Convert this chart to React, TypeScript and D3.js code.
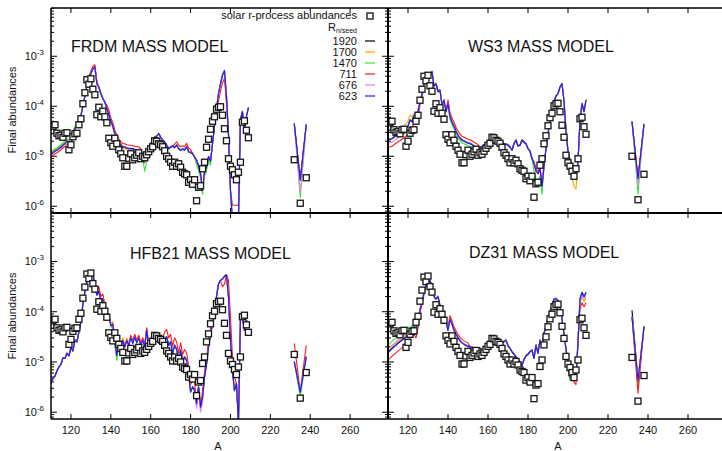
import React from "react";
import * as d3 from "d3";

const W = 722;
const H = 451;
const FONT = "'Liberation Sans', Arial, Helvetica, sans-serif";

// legend / series
const rnSeed = ["1920", "1700", "1470", "711", "676", "623"];
const seriesColors = ["#000000", "#ffa500", "#2ee62e", "#ff1a1a", "#ee82ee", "#1a1aff"];
const panelTitles = ["FRDM MASS MODEL", "WS3 MASS MODEL", "HFB21 MASS MODEL", "DZ31 MASS MODEL"];

// mass numbers
const massA = d3.range(110, 210);
const actinideA = [232, 235, 238];
const xTickValues = [120, 140, 160, 180, 200, 220, 240, 260];
const yTickPowers = [-3, -4, -5, -6];

// solar r-process abundances (log10), A = 110..209 then 232, 235, 238
const solarA = [...massA, ...actinideA];
const solarLog = [
  -4.42, -4.33, -4.3, -4.47, -4.52, -4.51, -4.55, -4.47, -4.46, -4.8,
  -4.7, -4.54, -4.48, -4.47, -4.3, -4.18, -3.88, -3.66, -3.4, -3.49,
  -3.38, -3.59, -3.7, -4.1, -3.95, -4.14, -4.03, -4.14, -4.26, -4.57,
  -4.66, -4.73, -4.57, -4.68, -4.8, -4.88, -4.96, -5.13, -5.13, -4.97,
  -4.88, -5.0, -4.96, -4.91, -4.86, -4.98, -4.93, -4.96, -4.9, -4.84,
  -4.78, -4.74, -4.62, -4.63, -4.68, -4.7, -4.74, -4.82, -4.93, -4.98,
  -5.05, -5.13, -5.05, -5.13, -5.08, -5.15, -5.25, -5.28, -5.3, -5.45,
  -5.4, -5.49, -5.4, -5.82, -5.55, -5.52, -5.18, -5.05, -4.75, -4.59,
  -4.39, -4.23, -4.14, -3.99, -3.95, -3.94, -4.11, -4.38, -4.62, -4.98,
  -5.13, -5.2, -5.3, -5.4, -5.25, -5.05, -4.25, -4.22, -4.41, -4.56,
  -5.0, -5.87, -5.36,
];
// normalisation of the solar pattern in each panel (dex)
const solarNorm = [-0.07, 0, 0.15, 0.09];

// R_n/seed = 623 curves (log10), A = 110..209
const frdmBlue = [
  -4.96, -4.93, -4.9, -4.88, -4.85, -4.82, -4.78, -4.75, -4.7, -4.72,
  -4.8, -4.55, -4.45, -4.4, -4.3, -4.2, -4.0, -3.8, -3.6, -3.45,
  -3.35, -3.25, -3.22, -3.55, -3.62, -3.75, -3.85, -3.92, -4.05, -4.15,
  -4.3, -4.4, -4.55, -4.65, -4.72, -4.78, -4.82, -4.82, -4.84, -4.85,
  -4.85, -4.86, -4.87, -4.88, -4.88, -4.92, -4.98, -5.1, -5.0, -4.85,
  -4.75, -4.68, -4.62, -4.6, -4.55, -4.62, -4.68, -4.72, -4.78, -4.85,
  -4.82, -4.8, -4.83, -4.78, -4.85, -4.88, -4.86, -4.88, -4.81, -4.91,
  -4.93, -4.95, -5.02, -5.08, -5.2, -5.35, -5.68, -5.31, -5.21, -5.01,
  -5.1, -4.75, -4.4, -4.05, -3.75, -3.55, -3.38, -3.29, -3.8, -4.55,
  -5.68, -6.3, -6.3, -6.3, -6.3, -4.28, -4.11, -4.45, -4.21, -4.03,
];
const ws3Blue = [
  -4.68, -4.66, -4.65, -4.62, -4.59, -4.56, -4.54, -4.51, -4.48, -4.45,
  -4.4, -4.28, -4.31, -4.18, -4.17, -4.1, -3.92, -3.75, -3.57, -3.45,
  -3.4, -3.36, -3.31, -3.6, -3.55, -3.71, -3.68, -3.98, -3.88, -4.11,
  -3.95, -4.21, -4.32, -4.4, -4.5, -4.58, -4.64, -4.68, -4.7, -4.72,
  -4.74, -4.75, -4.77, -4.8, -4.82, -4.85, -4.83, -4.81, -4.78, -4.75,
  -4.7, -4.66, -4.63, -4.62, -4.63, -4.66, -4.68, -4.72, -4.75, -4.76,
  -4.78, -4.82, -4.88, -4.75, -4.68, -4.8, -4.78, -4.68, -4.72, -4.75,
  -4.85, -4.9, -5.05, -5.15, -5.3, -5.35, -5.25, -5.61, -5.21, -4.85,
  -4.55, -4.3, -4.08, -3.9, -3.8, -3.75, -3.62, -3.55, -3.9, -4.5,
  -4.9, -5.08, -5.18, -5.35, -5.41, -5.11, -4.28, -3.95, -4.11, -3.88,
];
const hfb21Blue = [
  -5.43, -5.33, -5.28, -5.18, -5.1, -5.05, -4.92, -4.93, -4.83, -4.88,
  -4.72, -4.78, -4.57, -4.6, -4.4, -4.2, -3.85, -3.6, -3.4, -3.3,
  -3.3, -3.23, -3.53, -3.67, -3.6, -3.8, -3.75, -3.95, -4.1, -4.05,
  -4.28, -4.25, -4.6, -4.87, -4.63, -4.68, -4.57, -4.7, -4.57, -4.67,
  -4.52, -4.63, -4.5, -4.62, -4.52, -4.67, -4.57, -4.7, -4.37, -4.7,
  -4.57, -4.67, -4.55, -4.5, -4.63, -4.57, -4.68, -4.55, -4.5, -4.67,
  -4.6, -4.83, -4.67, -4.75, -4.97, -4.77, -5.0, -4.9, -4.97, -5.23,
  -5.6, -5.5, -5.55, -5.83, -5.5, -5.9, -5.7, -5.3, -5.05, -4.7,
  -4.45, -4.25, -4.0, -3.7, -3.45, -3.38, -3.35, -3.3, -3.27, -3.7,
  -4.57, -5.17, -5.57, -5.43, -6.2, -4.17, -4.1, -4.37, -4.17, -4.3,
];
const dz31Blue = [
  -4.82, -4.78, -4.74, -4.7, -4.67, -4.63, -4.6, -4.57, -4.54, -4.51,
  -4.45, -4.37, -4.33, -4.3, -4.37, -4.17, -3.97, -3.8, -3.62, -3.48,
  -3.43, -3.38, -3.5, -3.7, -3.75, -3.7, -3.88, -3.95, -4.05, -4.2,
  -4.37, -4.15, -4.25, -4.37, -4.45, -4.52, -4.58, -4.62, -4.65, -4.67,
  -4.69, -4.7, -4.71, -4.73, -4.73, -4.73, -4.73, -4.76, -4.8, -4.75,
  -4.67, -4.62, -4.57, -4.55, -4.53, -4.58, -4.62, -4.63, -4.6, -4.57,
  -4.68, -4.73, -4.8, -4.85, -4.9, -4.95, -5.0, -5.07, -4.95, -4.88,
  -4.85, -4.8, -4.77, -4.93, -4.67, -4.83, -4.57, -4.7, -4.43, -4.3,
  -4.15, -4.0, -3.88, -3.75, -3.74, -3.78, -3.88, -4.15, -4.45, -4.75,
  -4.97, -5.17, -5.12, -5.25, -5.3, -4.6, -3.75, -3.62, -3.7, -3.62,
];
// R_n/seed = 623 at A = 232, 235, 238
const frdmActinide = [-4.35, -5.48, -4.37];
const ws3Actinide = [-4.31, -5.45, -4.36];
const hfb21Actinide = [-5.0, -5.6, -4.9];
const dz31Actinide = [-4.1, -5.37, -4.3];

// departures of the other R_n/seed runs from the 623 run: [A from, A to, dex]
const frdmOffsets = [
  [[110, 238, 0.01]],
  [[110, 125, 0.03], [140, 160, -0.03], [186, 186, -0.08]],
  [[110, 125, 0.05], [150, 158, -0.08], [157, 157, -0.12], [183, 190, -0.08], [198, 200, -0.1], [235, 235, -0.35]],
  [[110, 120, -0.05], [129, 133, 0.05], [138, 155, 0.07], [172, 180, 0.07], [194, 198, -0.15], [201, 204, 0.32]],
  [[150, 158, -0.04], [235, 235, -0.25]],
  [],
];
const ws3Offsets = [
  [[110, 238, 0.01]],
  [[118, 122, 0.1], [202, 204, -0.25]],
  [[140, 160, -0.05], [183, 187, -0.15], [235, 235, -0.3]],
  [[110, 125, -0.15], [126, 130, -0.05], [140, 155, 0.08], [183, 188, 0.05]],
  [[110, 118, -0.07], [235, 235, -0.15]],
  [],
];
const hfb21Offsets = [
  [[110, 238, 0.01]],
  [[140, 160, 0.05]],
  [[141, 143, -0.1], [182, 186, -0.05], [235, 235, -0.1]],
  [[132, 138, 0.1], [150, 160, 0.05], [166, 182, 0.15], [186, 190, 0.12], [196, 197, -0.15], [199, 199, 0.33], [200, 200, 0.47], [201, 202, 0.27], [232, 232, 0.37], [238, 238, 0.23]],
  [[183, 186, -0.1]],
  [],
];
const dz31Offsets = [
  [[110, 238, 0.01], [232, 232, 0.12]],
  [[110, 120, 0.05], [200, 206, -0.05], [207, 209, -0.1]],
  [[110, 120, 0.15], [121, 125, 0.05], [200, 202, -0.2], [235, 235, -0.15]],
  [[110, 125, -0.15], [126, 128, -0.05], [140, 150, 0.07], [200, 204, -0.15], [206, 209, -0.2], [235, 235, -0.25]],
  [[110, 120, 0.07], [206, 209, -0.05]],
  [],
];

const panelData = [
  { base: frdmBlue, act: frdmActinide, offs: frdmOffsets },
  { base: ws3Blue, act: ws3Actinide, offs: ws3Offsets },
  { base: hfb21Blue, act: hfb21Actinide, offs: hfb21Offsets },
  { base: dz31Blue, act: dz31Actinide, offs: dz31Offsets },
];

// layout
const boxes = [
  { x0: 51, x1: 388, y0: 8, y1: 213, tx: 71, ty: 52 },
  { x0: 388, x1: 726, y0: 8, y1: 213, tx: 468, ty: 52 },
  { x0: 51, x1: 388, y0: 213, y1: 419, tx: 130, ty: 259 },
  { x0: 388, x1: 726, y0: 213, y1: 419, tx: 469, ty: 258 },
];
const xDomain = [110, 279];
const yDomain = [Math.pow(10, -6.135), Math.pow(10, -2.035)];

const minorTicks: { v: number; major: boolean }[] = [];
for (let e = -7; e <= -3; e++) {
  for (let k = 1; k <= 9; k++) {
    const v = k * Math.pow(10, e);
    if (v >= yDomain[0] && v <= yDomain[1]) minorTicks.push({ v, major: k === 1 });
  }
}

function curves(p: number, s: number) {
  const { base, act, offs } = panelData[p];
  const o = offs[s];
  const delta = (a: number) =>
    o.filter((r) => a >= r[0] && a <= r[1]).reduce((t, r) => t + r[2], 0);
  const main = massA.map((a, i) => [a, base[i] + delta(a)] as [number, number]);
  const tail = actinideA.map((a, i) => [a, act[i] + delta(a)] as [number, number]);
  return [main, tail];
}

function Panel({ p }: { p: number }) {
  const b = boxes[p];
  const x = d3.scaleLinear().domain(xDomain).range([b.x0, b.x1]);
  const y = d3.scaleLog().domain(yDomain).range([b.y1, b.y0]);
  const line = d3
    .line<[number, number]>()
    .x((d) => x(d[0]))
    .y((d) => y(Math.pow(10, d[1])));
  const clipId = `clip${p}`;
  const left = p % 2 === 0;
  const bottom = p >= 2;
  return (
    <g>
      <defs>
        <clipPath id={clipId}>
          <rect x={b.x0} y={b.y0} width={b.x1 - b.x0} height={b.y1 - b.y0} />
        </clipPath>
      </defs>
      {/* y ticks on left edge (inside) and on right edge for left panels */}
      {minorTicks.map((t, i) => {
        const len = t.major ? 6 : 3;
        const yy = y(t.v);
        return (
          <g key={`yt${i}`} stroke="#000" strokeWidth={1}>
            <line x1={b.x0} x2={b.x0 + len} y1={yy} y2={yy} />
            {left && <line x1={b.x1} x2={b.x1 - len} y1={yy} y2={yy} />}
          </g>
        );
      })}
      {xTickValues.map((t) => (
        <g key={`xt${t}`} stroke="#000" strokeWidth={1}>
          <line x1={x(t)} x2={x(t)} y1={b.y1} y2={b.y1 - 5} />
          <line x1={x(t)} x2={x(t)} y1={b.y0} y2={b.y0 + 5} />
        </g>
      ))}
      {left &&
        yTickPowers.map((e) => (
          <text
            key={`yl${e}`}
            x={44}
            y={y(Math.pow(10, e)) + 4}
            textAnchor="end"
            fontFamily={FONT}
            fontSize={11}
            fill="#111"
          >
            <tspan>10</tspan>
            <tspan dy={-5} fontSize={8}>{`-${-e}`}</tspan>
          </text>
        ))}
      {bottom &&
        xTickValues.map((t) => (
          <text
            key={`xl${t}`}
            x={x(t)}
            y={434}
            textAnchor="middle"
            fontFamily={FONT}
            fontSize={11}
            fill="#111"
          >
            {t}
          </text>
        ))}
      <g clipPath={`url(#${clipId})`} fill="none">
        {rnSeed.map((_, s) =>
          curves(p, s).map((seg, k) => (
            <path
              key={`c${s}-${k}`}
              d={line(seg) || ""}
              stroke={seriesColors[s]}
              strokeWidth={1.1}
              strokeLinejoin="round"
            />
          ))
        )}
        {solarA.map((a, i) => {
          const cx = x(a);
          const cy = y(Math.pow(10, solarLog[i] + solarNorm[p]));
          return (
            <rect
              key={`sq${a}`}
              x={cx - 3}
              y={cy - 3}
              width={6}
              height={6}
              fill="#fff"
              stroke="#151515"
              strokeWidth={1.3}
            />
          );
        })}
      </g>
      <text x={b.tx} y={b.ty} fontFamily={FONT} fontSize={16} fill="#111">
        {panelTitles[p]}
      </text>
    </g>
  );
}

function Legend() {
  const right = 357;
  const rows = [45, 56, 67, 78, 89, 100];
  return (
    <g fontFamily={FONT} fontSize={11} fill="#111">
      <text x={right} y={18.5} textAnchor="end">
        solar r-process abundances
      </text>
      <rect x={367} y={13} width={6} height={6} fill="#fff" stroke="#151515" strokeWidth={1.3} />
      <text x={right} y={31} textAnchor="end">
        <tspan>R</tspan>
        <tspan dy={2} fontSize={7}>n/seed</tspan>
      </text>
      {rnSeed.map((r, i) => (
        <g key={r}>
          <text x={right} y={rows[i]} textAnchor="end">
            {r}
          </text>
          <line x1={365} x2={375} y1={rows[i] - 4} y2={rows[i] - 4} stroke={seriesColors[i]} strokeWidth={1.2} />
        </g>
      ))}
    </g>
  );
}

export default function App() {
  return (
    <svg
      width={W}
      height={H}
      viewBox={`0 0 ${W} ${H}`}
      style={{ position: "absolute", left: 0, top: 0, background: "#fff" }}
    >
      <rect x={0} y={0} width={W} height={H} fill="#fff" />
      {[0, 1, 2, 3].map((p) => (
        <Panel key={p} p={p} />
      ))}
      {/* frame */}
      <g stroke="#000" fill="none">
        <line x1={51} x2={W} y1={8} y2={8} strokeWidth={1.5} />
        <line x1={51} x2={W} y1={213} y2={213} strokeWidth={2} />
        <line x1={51} x2={W} y1={419} y2={419} strokeWidth={1.5} />
        <line x1={51} x2={51} y1={8} y2={419} strokeWidth={1.5} />
        <line x1={388} x2={388} y1={8} y2={419} strokeWidth={2} />
      </g>
      <Legend />
      {[110, 316].map((cy) => (
        <text
          key={cy}
          transform={`translate(16,${cy}) rotate(-90)`}
          textAnchor="middle"
          fontFamily={FONT}
          fontSize={11}
          fill="#111"
        >
          Final abundances
        </text>
      ))}
      {[218, 558].map((cx) => (
        <text key={cx} x={cx} y={450} textAnchor="middle" fontFamily={FONT} fontSize={11} fill="#111">
          A
        </text>
      ))}
    </svg>
  );
}
